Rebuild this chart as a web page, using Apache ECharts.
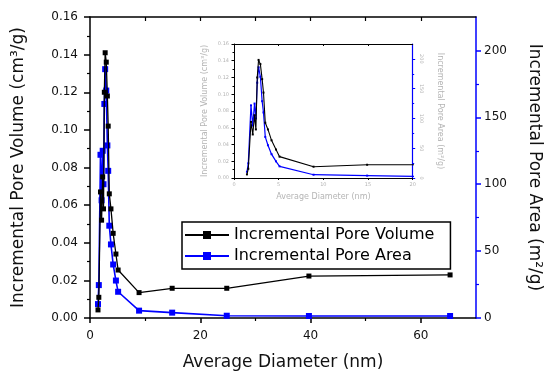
<!DOCTYPE html>
<html>
<head>
<meta charset="utf-8">
<script src="https://cdn.jsdelivr.net/npm/echarts@6/dist/echarts.min.js"></script>
<style>
  html, body { margin: 0; padding: 0; background: #ffffff; }
  #chart { width: 551px; height: 376px; }
</style>
</head>
<body>
<div id="chart"></div>
<script>
// Pore size distribution: diameter (nm) vs incremental pore volume and area
const diameter   = [1.45, 1.6, 1.9, 2.1, 2.3, 2.45, 2.6, 2.75, 2.95, 3.15, 3.3, 3.5, 3.8, 4.2, 4.7, 5.1, 8.9, 14.9, 24.8, 39.7, 65.3];
const poreVolume = [0.0043, 0.011, 0.067, 0.052, 0.075, 0.058, 0.120, 0.141, 0.136, 0.118, 0.102, 0.066, 0.058, 0.045, 0.034, 0.0255, 0.0135, 0.0158, 0.0158, 0.0223, 0.0229];
const poreArea   = [10.4, 24.6, 122, 88, 125, 100, 160, 186, 170, 129, 110, 69, 55, 40, 28, 19.6, 5.5, 4.0, 1.7, 1.5, 1.5];

const seriesNames = ['Incremental Pore Volume', 'Incremental Pore Area'];
const xTitle = 'Average Diameter (nm)';
const volumeTitle = 'Incremental Pore Volume (cm³/g)';
const areaTitle = 'Incremental Pore Area (m²/g)';

// tick positions
const mainXTicks  = [0, 20, 40, 60];
const mainXMinor  = [10, 30, 50];
const topXTicks   = [10, 20, 30, 40, 50, 60];
const areaTicks   = [0, 50, 100, 150, 200];
const areaMinor   = [25, 75, 125, 175];
const insetXTicks = [0, 5, 10, 15, 20];
const insetTopTicks = [5, 10, 15];
const insetAreaMinor = [25, 75, 125, 175];

const FONT = 'DejaVu Sans';
const BLUE = '#0000ff';
const INSET_TXT = '#b4b4b4';

const volPairs  = diameter.map((d, i) => [d, poreVolume[i]]);
const areaPairs = diameter.map((d, i) => [d, poreArea[i]]);

const chart = echarts.init(document.getElementById('chart'), null, { renderer: 'canvas' });

const blankAxis = {
  axisLabel: { show: false },
  splitLine: { show: false }
};

const option = {
  backgroundColor: '#ffffff',
  animation: false,
  grid: [
    { left: 90, top: 17, width: 395, height: 301, containLabel: false },
    { left: 234, top: 44, width: 178.7, height: 134, containLabel: false }
  ],
  legend: {
    data: seriesNames,
    orient: 'vertical',
    left: 182,
    top: 222,
    borderColor: '#000',
    borderWidth: 1.5,
    padding: [5, 16, 5, 2],
    itemGap: 5,
    itemWidth: 44,
    itemHeight: 10,
    textStyle: { fontFamily: FONT, fontSize: 16, color: '#000' },
    selectedMode: false
  },
  xAxis: [
    { // main bottom
      type: 'value', gridIndex: 0, position: 'bottom', min: 0, max: 70,
      axisLine: { show: true, onZero: false, lineStyle: { color: '#000', width: 1.5 } },
      axisTick: { show: true, inside: false, length: 5, customValues: mainXTicks, lineStyle: { color: '#000', width: 1.5 } },
      axisLabel: { show: true, customValues: mainXTicks, margin: 12, fontFamily: FONT, fontSize: 12, color: '#111' },
      splitLine: { show: false },
      name: xTitle, nameLocation: 'middle', nameGap: 36,
      nameTextStyle: { fontFamily: FONT, fontSize: 17, color: '#111' }
    },
    Object.assign({ // main bottom minor ticks
      type: 'value', gridIndex: 0, position: 'bottom', min: 0, max: 70,
      axisLine: { show: false, onZero: false },
      axisTick: { show: true, inside: false, length: 3, customValues: mainXMinor, lineStyle: { color: '#000', width: 1.2 } }
    }, blankAxis),
    Object.assign({ // main top
      type: 'value', gridIndex: 0, position: 'top', min: 0, max: 70,
      axisLine: { show: true, onZero: false, lineStyle: { color: '#000', width: 1.5 } },
      axisTick: { show: true, inside: true, length: 4, customValues: topXTicks, lineStyle: { color: '#000', width: 1.2 } }
    }, blankAxis),
    { // inset bottom
      type: 'value', gridIndex: 1, position: 'bottom', min: 0, max: 20,
      axisLine: { show: true, onZero: false, lineStyle: { color: '#000', width: 1 } },
      axisTick: { show: true, inside: false, length: 2, customValues: insetXTicks, lineStyle: { color: '#000', width: 1 } },
      axisLabel: { show: true, customValues: insetXTicks, margin: 4, fontFamily: FONT, fontSize: 5, color: INSET_TXT },
      splitLine: { show: false },
      name: xTitle, nameLocation: 'middle', nameGap: 15,
      nameTextStyle: { fontFamily: FONT, fontSize: 8, color: INSET_TXT }
    },
    Object.assign({ // inset top
      type: 'value', gridIndex: 1, position: 'top', min: 0, max: 20,
      axisLine: { show: true, onZero: false, lineStyle: { color: '#000', width: 1 } },
      axisTick: { show: true, inside: true, length: 2, customValues: insetTopTicks, lineStyle: { color: '#000', width: 1 } }
    }, blankAxis)
  ],
  yAxis: [
    { // main left: pore volume
      type: 'value', gridIndex: 0, position: 'left', min: 0, max: 0.16, interval: 0.02,
      axisLine: { show: true, onZero: false, lineStyle: { color: '#000', width: 1.5 } },
      axisTick: { show: true, inside: false, length: 6, lineStyle: { color: '#000', width: 1.5 } },
      minorTick: { show: true, splitNumber: 2, length: 3, lineStyle: { color: '#000', width: 1.2 } },
      axisLabel: { margin: 12, fontFamily: FONT, fontSize: 12, color: '#111', formatter: v => v.toFixed(2) },
      splitLine: { show: false },
      name: volumeTitle, nameLocation: 'middle', nameGap: 63, nameRotate: 90,
      nameTextStyle: { fontFamily: FONT, fontSize: 17, color: '#111' }
    },
    { // main right: pore area
      type: 'value', gridIndex: 0, position: 'right', min: 0, max: 225,
      axisLine: { show: true, onZero: false, lineStyle: { color: BLUE, width: 1.5 } },
      axisTick: { show: true, inside: false, length: 5, customValues: areaTicks, lineStyle: { color: BLUE, width: 1.5 } },
      axisLabel: { customValues: areaTicks, margin: 8, fontFamily: FONT, fontSize: 12, color: '#111' },
      splitLine: { show: false },
      name: areaTitle, nameLocation: 'middle', nameGap: 50, nameRotate: -90,
      nameTextStyle: { fontFamily: FONT, fontSize: 17, color: '#111' }
    },
    Object.assign({ // main right minor ticks
      type: 'value', gridIndex: 0, position: 'right', min: 0, max: 225,
      axisLine: { show: false, onZero: false },
      axisTick: { show: true, inside: false, length: 3, customValues: areaMinor, lineStyle: { color: BLUE, width: 1.2 } }
    }, blankAxis),
    { // inset left
      type: 'value', gridIndex: 1, position: 'left', min: 0, max: 0.16, interval: 0.02,
      axisLine: { show: true, onZero: false, lineStyle: { color: '#000', width: 1 } },
      axisTick: { show: true, inside: false, length: 2.5, lineStyle: { color: '#000', width: 1 } },
      minorTick: { show: true, splitNumber: 2, length: 1.5, lineStyle: { color: '#000', width: 1 } },
      axisLabel: { margin: 5, fontFamily: FONT, fontSize: 5, color: INSET_TXT, formatter: v => v.toFixed(2) },
      splitLine: { show: false },
      name: volumeTitle, nameLocation: 'middle', nameGap: 25, nameRotate: 90,
      nameTextStyle: { fontFamily: FONT, fontSize: 8, color: INSET_TXT }
    },
    { // inset right
      type: 'value', gridIndex: 1, position: 'right', min: 0, max: 225,
      axisLine: { show: true, onZero: false, lineStyle: { color: BLUE, width: 1.2 } },
      axisTick: { show: true, inside: false, length: 2.5, customValues: areaTicks, lineStyle: { color: BLUE, width: 1 } },
      axisLabel: { customValues: areaTicks, margin: 6, rotate: -90, fontFamily: FONT, fontSize: 5, color: INSET_TXT },
      splitLine: { show: false },
      name: areaTitle, nameLocation: 'middle', nameGap: 23, nameRotate: -90,
      nameTextStyle: { fontFamily: FONT, fontSize: 8, color: INSET_TXT }
    },
    Object.assign({ // inset right minor ticks
      type: 'value', gridIndex: 1, position: 'right', min: 0, max: 225,
      axisLine: { show: false, onZero: false },
      axisTick: { show: true, inside: false, length: 1.5, customValues: insetAreaMinor, lineStyle: { color: BLUE, width: 1 } }
    }, blankAxis)
  ],
  series: [
    {
      name: seriesNames[0], type: 'line', xAxisIndex: 0, yAxisIndex: 0, data: volPairs,
      symbol: 'rect', symbolSize: 5, showSymbol: true, clip: true, z: 3,
      lineStyle: { color: '#000', width: 1.3 }, itemStyle: { color: '#000' }
    },
    {
      name: seriesNames[1], type: 'line', xAxisIndex: 0, yAxisIndex: 1, data: areaPairs,
      symbol: 'rect', symbolSize: 6, showSymbol: true, clip: true, z: 2,
      lineStyle: { color: BLUE, width: 1.6 }, itemStyle: { color: BLUE }
    },
    {
      name: seriesNames[0], type: 'line', xAxisIndex: 3, yAxisIndex: 3, data: volPairs,
      symbol: 'rect', symbolSize: 2, showSymbol: true, clip: true, z: 3,
      lineStyle: { color: '#000', width: 1.1 }, itemStyle: { color: '#000' }
    },
    {
      name: seriesNames[1], type: 'line', xAxisIndex: 3, yAxisIndex: 4, data: areaPairs,
      symbol: 'rect', symbolSize: 2, showSymbol: true, clip: true, z: 2,
      lineStyle: { color: BLUE, width: 1.2 }, itemStyle: { color: BLUE }
    }
  ]
};

chart.setOption(option);
</script>
</body>
</html>
